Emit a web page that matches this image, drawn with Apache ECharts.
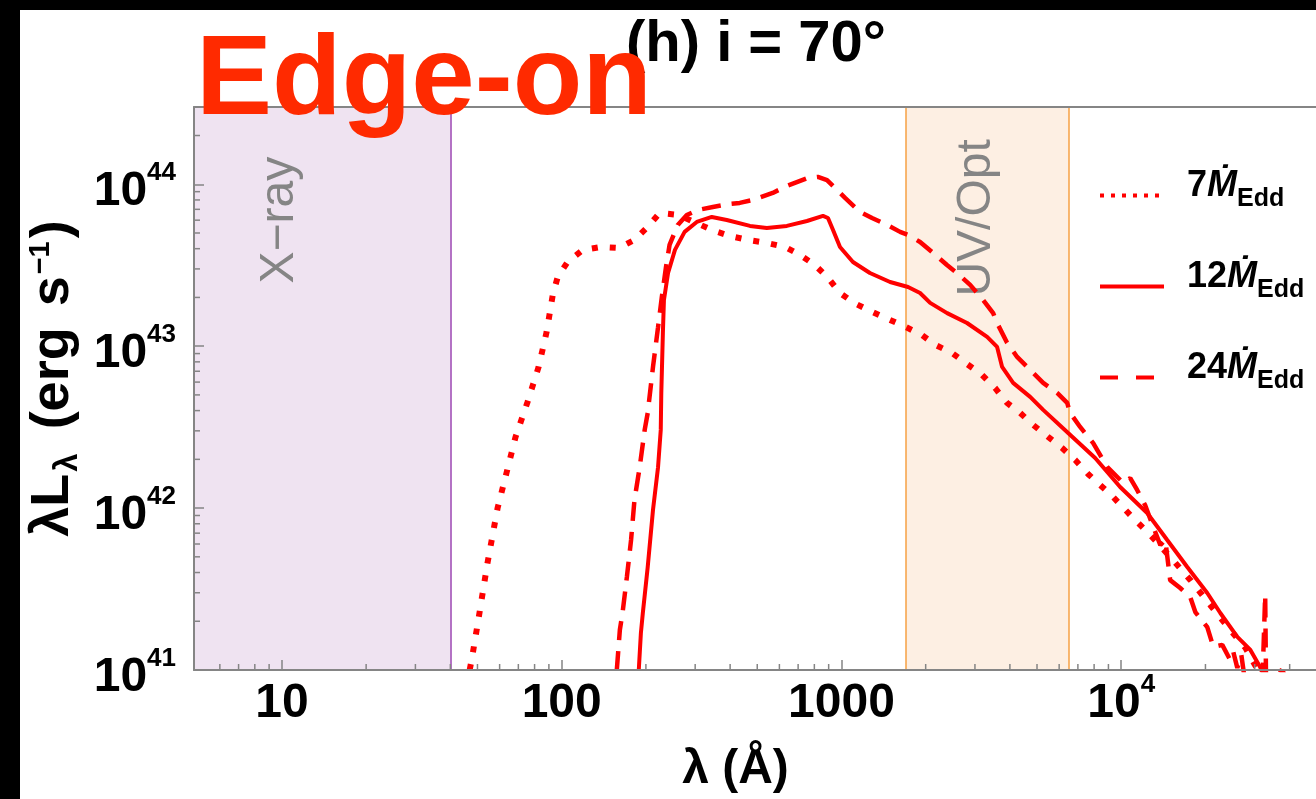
<!DOCTYPE html>
<html>
<head>
<meta charset="utf-8">
<script src="https://cdn.jsdelivr.net/npm/echarts@6/dist/echarts.min.js"></script>
<style>
  html, body { margin: 0; padding: 0; background: #000; width: 1316px; height: 799px; overflow: hidden; }
  #chart { position: absolute; left: 20px; top: 10px; width: 1296px; height: 789px; background: #fff; }
</style>
</head>
<body>
<div id="chart"></div>
<script>
// Spectral energy distributions, i = 70 deg: wavelength (Å) and λL_λ (erg s^-1)
const lam7 = [46.9, 48.0, 50.5, 54.3, 59.0, 63.5, 68.4, 75.5, 82.7, 88.3, 92.9, 96.8, 105, 119, 138, 160, 182, 203, 224, 262,
  344, 399, 463, 541, 628, 711, 804, 895, 988, 1109, 1286, 1466, 1674, 1941, 2160, 2485, 2811, 3182, 3540, 3908,
  4352, 4845, 5479, 6149, 6850, 7623, 8480, 9360, 10760, 12700, 14970, 17650, 20800, 24500, 27800, 30100, 31700];
const lum7 = [1.0e41, 1.24e41, 2.10e41, 4.58e41, 1.00e42, 1.65e42, 2.75e42, 4.52e42, 7.44e42, 1.22e43, 2.07e43, 2.68e43, 3.31e43, 3.93e43, 4.10e43, 4.04e43, 4.53e43, 5.45e43, 6.65e43, 6.46e43,
  5.22e43, 4.79e43, 4.53e43, 4.34e43, 4.10e43, 3.66e43, 3.17e43, 2.64e43, 2.13e43, 1.85e43, 1.63e43, 1.47e43, 1.33e43, 1.17e43, 1.02e43, 9.08e42, 7.76e42, 6.64e42, 5.52e42, 4.46e42,
  3.87e42, 3.26e42, 2.75e42, 2.35e42, 1.98e42, 1.62e42, 1.37e42, 1.17e42, 9.07e41, 6.82e41, 4.99e41, 3.60e41, 2.52e41, 1.77e41, 1.37e41, 1.07e41, 9.3e40];

const lam12 = [188.6, 191.9, 195, 203, 212, 221, 226, 227, 230, 232, 240, 254, 275, 304, 344, 389, 471, 541, 638, 753,
  859, 895, 933, 988, 1099, 1264, 1492, 1730, 1910, 2075, 2386, 2811, 3316, 3600, 3752, 4108, 4726, 5260, 6460, 8070,
  9910, 12380, 14600, 17220, 20300, 22600, 26000, 28950, 31400, 32200];
const lum12 = [1.0e41, 1.69e41, 2.25e41, 4.33e41, 9.73e41, 1.79e42, 3.04e42, 5.14e42, 1.21e43, 1.93e43, 2.83e43, 3.93e43, 5.08e43, 5.85e43, 6.28e43, 6.02e43, 5.53e43, 5.37e43, 5.53e43, 5.93e43,
  6.37e43, 6.19e43, 5.22e43, 4.10e43, 3.31e43, 2.83e43, 2.49e43, 2.32e43, 2.13e43, 1.85e43, 1.60e43, 1.39e43, 1.14e43, 9.89e42, 7.44e42, 5.93e42, 4.86e42, 4.04e42, 2.91e42, 2.04e42,
  1.35e42, 9.33e41, 6.35e41, 4.33e41, 2.99e41, 2.25e41, 1.60e41, 1.33e41, 1.04e41, 9.2e40];

const lam24 = [157.4, 161.4, 165, 171, 177, 182, 190, 198, 203, 212, 221, 228, 236, 243, 260, 280, 307, 347, 399, 433,
  482, 568, 638, 753, 824, 888, 964, 1030, 1165, 1286, 1455, 1620, 1730, 1910, 2124, 2383, 2589, 2884, 3209, 3485,
  3600, 3908, 4245, 4726, 5260, 5902, 6410, 6570, 7130, 7940, 8920, 10170, 10770, 11410, 12180, 13020, 13800, 14370, 14960, 16250,
  17650, 18400, 20300, 21340, 22970, 24540, 25160, 26000, 26870, 27990, 31900, 32700, 32960, 35550, 38000, 40000];
const lum24 = [1.0e41, 1.77e41, 2.25e41, 3.75e41, 6.35e41, 1.12e42, 1.79e42, 3.04e42, 3.87e42, 7.44e42, 1.31e43, 2.01e43, 3.09e43, 4.22e43, 5.61e43, 6.46e43, 6.94e43, 7.24e43, 7.56e43, 7.67e43,
  8.00e43, 8.84e43, 9.76e43, 1.09e44, 1.11e44, 1.06e44, 9.22e43, 8.23e43, 6.75e43, 6.19e43, 5.61e43, 5.08e43, 4.86e43, 4.40e43, 3.77e43, 3.17e43, 2.83e43, 2.39e43, 1.93e43, 1.60e43,
  1.39e43, 1.05e43, 8.58e42, 7.13e42, 5.93e42, 5.14e42, 4.46e42, 3.87e42, 3.17e42, 2.52e42, 1.79e42, 1.43e42, 1.53e42, 1.29e42, 1.04e42, 7.64e41, 5.91e41, 6.36e41, 3.59e41, 3.21e41,
  2.82e41, 2.28e41, 1.84e41, 1.39e41, 1.43e41, 1.15e41, 1.29e41, 1.03e41, 1.24e41, 7.5e40, 7.5e40, 2.9e41, 7.5e40, 1.03e41, 9.7e40, 6.5e40];

// accretion rates in units of the Eddington rate
const rates = ['7', '12', '24'];

// axis ranges
const xRange = [4.85, 1e5];
const yRange = [1e41, 3e44];

// minor tick values
const xMinor = [6, 7, 8, 9, 20, 30, 40, 50, 60, 70, 80, 90, 200, 300, 400, 500, 600, 700, 800, 900,
  2000, 3000, 4000, 5000, 6000, 7000, 8000, 9000, 20000, 30000, 40000, 50000, 60000, 70000, 80000, 90000];
const yMinor = [2e41, 3e41, 4e41, 5e41, 6e41, 7e41, 8e41, 9e41, 2e42, 3e42, 4e42, 5e42, 6e42, 7e42, 8e42, 9e42,
  2e43, 3e43, 4e43, 5e43, 6e43, 7e43, 8e43, 9e43, 2e44];

// observing bands (Å)
const xrayBand = [0.124, 40];
const uvBand = [1700, 6500];
const bandNames = ['X\u2212ray', 'UV/Opt'];
const bandLabelAt = [[9.8, 6.0e43], [3040, 6.2e43]];

const SANS = '"Liberation Sans", Arial, sans-serif';
const FRAME = '#858585';
const RED = '#ff0000';

const pair = (xs, ys) => xs.map((x, i) => [x, ys[i]]);

const numRich = {
  b: { fontFamily: SANS, fontWeight: 'bold', fontSize: 48, lineHeight: 56, verticalAlign: 'bottom', color: '#000' },
  s: { fontFamily: SANS, fontWeight: 'bold', fontSize: 26, lineHeight: 26, verticalAlign: 'top', color: '#000' }
};
function exponent(v) {
  const e = Math.log10(v);
  const r = Math.round(e);
  return Math.abs(e - r) < 1e-6 ? r : null;
}

const nameA = { fontFamily: SANS, fontWeight: 'bold', fontSize: 54, lineHeight: 58, verticalAlign: 'top', color: '#000' };

const chart = echarts.init(document.getElementById('chart'), null, { renderer: 'canvas' });

chart.setOption({
  animation: false,
  backgroundColor: '#fff',
  title: {
    text: '(h) i = 70°',
    left: 736, top: 6, padding: 0, textAlign: 'center',
    textStyle: { fontFamily: SANS, fontWeight: 'bold', fontSize: 58, color: '#000' }
  },
  grid: { left: 174, top: 97, right: -85, bottom: 129, containLabel: false, outerBoundsMode: 'none' },
  xAxis: [{
    type: 'log', logBase: 10, min: xRange[0], max: xRange[1], z: 10,
    axisLine: { show: true, lineStyle: { color: FRAME, width: 2 } },
    axisTick: { show: true, inside: true, length: 10, lineStyle: { color: FRAME, width: 1.5 } },
    splitLine: { show: false },
    axisLabel: {
      margin: 2, rich: numRich,
      formatter: v => {
        const r = exponent(v);
        if (r === null) return '';
        return r < 4 ? '{b|' + Math.pow(10, r) + '}' : '{b|10}{s|' + r + '}';
      }
    },
    name: 'λ (Å)', nameLocation: 'middle', nameGap: 76, nameMoveOverlap: false,
    nameTextStyle: { fontFamily: SANS, fontWeight: 'bold', fontSize: 48, color: '#000', padding: [0, 124, 0, 0] }
  }, {
    type: 'log', logBase: 10, min: xRange[0], max: xRange[1], position: 'top', z: 10,
    axisLine: { show: true, lineStyle: { color: FRAME, width: 2 } },
    axisTick: { show: false }, axisLabel: { show: false }, splitLine: { show: false }
  }],
  yAxis: {
    type: 'log', logBase: 10, min: yRange[0], max: yRange[1], z: 10,
    axisLine: { show: true, lineStyle: { color: FRAME, width: 2 } },
    axisTick: { show: true, inside: true, length: 10, lineStyle: { color: FRAME, width: 1.5 } },
    splitLine: { show: false },
    axisLabel: {
      margin: 18, rich: numRich, padding: [8, 0, 0, 0],
      formatter: v => {
        const r = exponent(v);
        return r === null ? '' : '{b|10}{s|' + r + '}';
      }
    },
    name: '{a|λL}{sub|λ}{w| }{a|(erg}{w| }{a|s}{sup|\u22121}{a|)}',
    nameLocation: 'middle', nameRotate: 90, nameGap: 110, nameMoveOverlap: false,
    nameTextStyle: {
      padding: [0, 0, 0, 20],
      rich: {
        a: nameA,
        w: Object.assign({}, nameA, { padding: [0, 3, 0, 3] }),
        sub: { fontFamily: SANS, fontWeight: 'bold', fontSize: 33, lineHeight: 32, verticalAlign: 'bottom', color: '#000', padding: [0, 3, 0, 2] },
        sup: { fontFamily: SANS, fontWeight: 'bold', fontSize: 29, lineHeight: 28, verticalAlign: 'top', color: '#000', padding: [0, 3, 0, 2] }
      }
    }
  },
  legend: {
    orient: 'vertical', left: 1078, top: 158, padding: 0, align: 'left',
    itemWidth: 64, itemHeight: 14, itemGap: 47, selectedMode: false,
    data: [
      { name: rates[0], lineStyle: { type: [4, 7], width: 4, color: RED }, itemStyle: { color: 'rgba(0,0,0,0)', borderWidth: 0 } },
      { name: rates[1], lineStyle: { type: 'solid', width: 4, color: RED }, itemStyle: { color: 'rgba(0,0,0,0)', borderWidth: 0 } },
      { name: rates[2], lineStyle: { type: [18, 18], width: 4, color: RED }, itemStyle: { color: 'rgba(0,0,0,0)', borderWidth: 0 } }
    ],
    formatter: n => '{n|' + n + '}{m|\u1E40}{e|Edd}',
    textStyle: {
      padding: [0, 0, 11, 0],
      rich: {
        n: { fontFamily: SANS, fontWeight: 'bold', fontSize: 36, lineHeight: 44, verticalAlign: 'top', color: '#000', padding: [0, 0, 0, 18] },
        m: { fontFamily: SANS, fontWeight: 'bold', fontStyle: 'italic', fontSize: 36, lineHeight: 44, verticalAlign: 'top', color: '#000' },
        e: { fontFamily: SANS, fontWeight: 'bold', fontSize: 25, lineHeight: 22, verticalAlign: 'bottom', color: '#000' }
      }
    }
  },
  graphic: [{
    type: 'text', x: 176, y: 73, z: 100,
    style: { text: 'Edge-on', fontFamily: SANS, fontWeight: 'bold', fontSize: 114, fill: '#ff2a00', align: 'left', verticalAlign: 'middle' }
  }],
  series: [
    {
      // observing bands
      type: 'line', data: [], z: 1, silent: true,
      markArea: {
        silent: true,
        data: [
          [{ xAxis: Math.max(xrayBand[0], xRange[0]), yAxis: yRange[0], itemStyle: { color: '#efe3f1' } }, { xAxis: xrayBand[1], yAxis: yRange[1] }],
          [{ xAxis: uvBand[0], yAxis: yRange[0], itemStyle: { color: '#fdefe3' } }, { xAxis: uvBand[1], yAxis: yRange[1] }]
        ]
      },
      markLine: {
        silent: true, symbol: 'none', label: { show: false },
        data: [
          { xAxis: xrayBand[1], lineStyle: { color: '#9b45b2', width: 1.5, type: 'solid' } },
          { xAxis: uvBand[0], lineStyle: { color: '#f6a043', width: 1.5, type: 'solid' } },
          { xAxis: uvBand[1], lineStyle: { color: '#f6a043', width: 1.5, type: 'solid' } }
        ]
      }
    },
    {
      type: 'scatter', data: bandLabelAt, symbolSize: 1, z: 4, silent: true,
      itemStyle: { color: 'rgba(0,0,0,0)' },
      label: {
        show: true, position: 'inside', rotate: 90, align: 'center', verticalAlign: 'middle', opacity: 1,
        formatter: p => bandNames[p.dataIndex],
        fontFamily: SANS, fontSize: 48, color: '#858585'
      }
    },
    {
      name: rates[0], type: 'line', data: pair(lam7, lum7), symbol: 'none', showSymbol: false, z: 5, clip: true,
      lineStyle: { color: RED, width: 6, type: [6, 12], cap: 'butt' }, itemStyle: { color: RED }
    },
    {
      name: rates[1], type: 'line', data: pair(lam12, lum12), symbol: 'none', showSymbol: false, z: 5, clip: true,
      lineStyle: { color: RED, width: 4, type: 'solid' }, itemStyle: { color: RED }
    },
    {
      name: rates[2], type: 'line', data: pair(lam24, lum24), symbol: 'none', showSymbol: false, z: 5, clip: true,
      lineStyle: { color: RED, width: 4.5, type: [19, 11] }, itemStyle: { color: RED }
    },
    {
      // minor ticks along the wavelength axis
      type: 'custom', z: 10, silent: true, clip: false,
      data: xMinor.map(v => [v, yRange[0]]),
      renderItem: (params, api) => {
        const cs = params.coordSys;
        const x = api.coord([api.value(0), api.value(1)])[0];
        const y = cs.y + cs.height;
        return { type: 'line', shape: { x1: x, y1: y, x2: x, y2: y - 6 }, style: { stroke: FRAME, lineWidth: 1.5 } };
      }
    },
    {
      // minor ticks along the luminosity axis
      type: 'custom', z: 10, silent: true, clip: false,
      data: yMinor.map(v => [xRange[0], v]),
      renderItem: (params, api) => {
        const cs = params.coordSys;
        const y = api.coord([api.value(0), api.value(1)])[1];
        const x = cs.x;
        return { type: 'line', shape: { x1: x, y1: y, x2: x + 6, y2: y }, style: { stroke: FRAME, lineWidth: 1.5 } };
      }
    }
  ]
});
</script>
</body>
</html>
